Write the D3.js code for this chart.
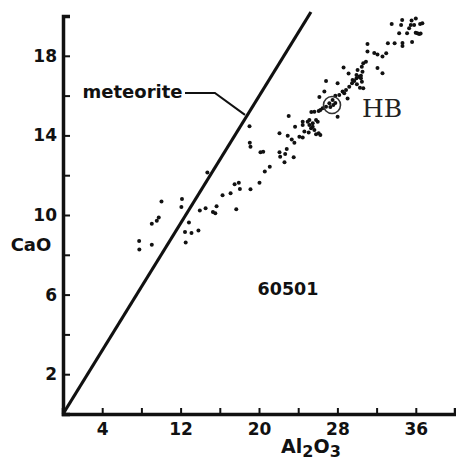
<!DOCTYPE html>
<html>
<head>
<meta charset="utf-8">
<script src="https://cdn.jsdelivr.net/npm/d3@7"></script>
<style>
  html, body { margin: 0; padding: 0; background: #fff; }
  svg { display: block; }
</style>
</head>
<body>
<div id="chart"></div>
<script>
// CaO vs Al2O3, sample 60501, with the meteorite mixing line
var alumina = [7.77, 7.79, 9.06, 9.06, 9.57, 9.77, 10.05, 12.14, 12.08, 12.85, 12.45, 13.11, 13.82, 12.52,
  13.96, 14.55, 15.30, 15.54, 15.67, 14.73, 16.28, 17.10, 17.51, 17.94, 18.05, 19.13, 17.68, 20.05, 20.59,
  21.10, 19.03, 19.06, 19.13, 20.15, 20.43, 22.09, 23.03, 23.68, 24.46, 22.93, 23.34, 23.61, 24.12, 24.46,
  22.83, 22.09, 22.16, 22.67, 23.54, 22.60, 24.97, 25.14, 25.48, 25.82, 25.99, 25.31, 25.65, 26.09, 25.82,
  26.26, 24.63, 25.07, 25.14, 24.46, 25.48, 25.65, 26.09, 26.49, 26.84, 27.18, 27.51, 27.79, 28.19, 28.53,
  28.70, 28.88, 29.21, 29.49, 29.04, 28.02, 26.16, 26.67, 26.84, 28.02, 28.63, 29.14, 29.55, 29.95, 30.40,
  30.23, 30.06, 30.56, 30.49, 30.64, 30.91, 31.07, 31.07, 31.76, 32.09, 32.60, 32.98, 32.09, 32.60, 33.15,
  33.84, 34.64, 34.64, 35.62, 33.54, 34.61, 34.50, 35.57, 36.00, 35.49, 35.83, 36.44, 36.67, 35.32, 35.11,
  34.30, 36.16, 36.34, 35.99, 36.49, 29.72, 30.50, 29.99, 30.30, 30.64, 29.95, 30.40, 25.34, 26.26, 27.28,
  27.58, 27.79];
var calcia = [8.69, 8.27, 8.51, 9.56, 9.71, 9.88, 10.68, 10.80, 10.40, 9.62, 9.15, 9.10, 9.22, 8.62,
  10.23, 10.34, 10.15, 10.09, 10.44, 12.14, 10.99, 11.09, 11.54, 11.62, 11.31, 11.29, 10.29, 11.62, 12.18,
  12.43, 14.46, 13.63, 13.43, 13.15, 13.18, 14.11, 14.97, 14.44, 14.69, 13.98, 13.80, 13.63, 13.93, 13.89,
  13.32, 13.15, 12.93, 13.07, 12.90, 12.65, 14.69, 14.52, 14.61, 14.77, 14.69, 14.36, 14.27, 14.11, 14.06,
  14.02, 14.19, 14.14, 14.77, 14.52, 14.44, 15.19, 15.23, 15.36, 15.44, 15.61, 15.78, 15.99, 16.03, 16.20,
  16.12, 16.28, 16.45, 16.62, 15.86, 14.94, 15.93, 16.20, 16.73, 16.62, 17.41, 17.11, 16.78, 16.87, 16.87,
  16.95, 17.29, 17.20, 17.45, 17.62, 17.70, 18.59, 18.21, 18.14, 18.06, 17.96, 18.13, 17.39, 17.12, 18.63,
  18.63, 18.64, 18.49, 18.69, 19.60, 19.80, 19.55, 19.77, 19.88, 19.55, 19.55, 19.60, 19.63, 19.38, 19.13,
  19.13, 19.13, 19.10, 19.16, 19.12, 16.73, 16.70, 16.57, 16.40, 16.37, 17.04, 17.00, 15.18, 15.28, 15.43,
  15.53, 15.63];

var xTicks = [4, 8, 12, 16, 20, 24, 28, 32, 36];
var xLabels = [4, 12, 20, 28, 36];
var yTicks = [2, 4, 6, 8, 10, 12, 14, 16, 18];
var yLabels = [2, 6, 10, 14, 18];

var meteoriteLine = [[0, 0], [25.3, 20.2]];
var meteoriteLeader = [[12.45, 16.13], [15.5, 16.13], [18.57, 15.03]];
var hbPoint = [27.45, 15.53];

var W = 456, H = 464;
var INK = "#111";
var FONT = "'DejaVu Sans', sans-serif";

var x = d3.scaleLinear().domain([0, 40]).range([63, 455]);
var y = d3.scaleLinear().domain([0, 20]).range([414, 16]);

var svg = d3.select("#chart").append("svg").attr("width", W).attr("height", H);

// axes: ticks point inward, labels only on every other tick
var xAxis = d3.axisBottom(x).tickValues(xTicks).tickSizeInner(-6).tickSizeOuter(-6).tickPadding(9)
  .tickFormat(function (d) { return xLabels.indexOf(d) >= 0 ? d : ""; });
var yAxis = d3.axisLeft(y).tickValues(yTicks).tickSizeInner(-7).tickSizeOuter(-7).tickPadding(6)
  .tickFormat(function (d) { return yLabels.indexOf(d) >= 0 ? d : ""; });

var gx = svg.append("g").attr("transform", "translate(0," + y(0) + ")").call(xAxis);
var gy = svg.append("g").attr("transform", "translate(" + x(0) + ",0)").call(yAxis);
[gx, gy].forEach(function (g) {
  g.select(".domain").attr("stroke", INK).attr("stroke-width", 3.5);
  g.selectAll(".tick line").attr("stroke", INK).attr("stroke-width", 2);
  g.selectAll(".tick text").attr("fill", INK).attr("font-family", FONT)
    .attr("font-weight", "bold").attr("font-size", 17);
});

// meteorite line
svg.append("path").attr("d", d3.line().x(function (d) { return x(d[0]); }).y(function (d) { return y(d[1]); })(meteoriteLine))
  .attr("fill", "none").attr("stroke", INK).attr("stroke-width", 3.2);

// leader from the label to the line
svg.append("path").attr("d", d3.line().x(function (d) { return x(d[0]); }).y(function (d) { return y(d[1]); })(meteoriteLeader))
  .attr("fill", "none").attr("stroke", INK).attr("stroke-width", 2);
svg.append("text").attr("x", x(12.2)).attr("y", y(16.13) + 5).attr("text-anchor", "end")
  .attr("font-family", FONT).attr("font-weight", "bold").attr("font-size", 18).attr("fill", INK).text("meteorite");

// samples
svg.append("g").selectAll("circle").data(alumina).join("circle")
  .attr("cx", function (d) { return x(d); })
  .attr("cy", function (d, i) { return y(calcia[i]); })
  .attr("r", 2).attr("fill", INK);

// HB marker
svg.append("circle").attr("cx", x(hbPoint[0])).attr("cy", y(hbPoint[1])).attr("r", 8.5)
  .attr("fill", "none").attr("stroke", "#333").attr("stroke-width", 1.6);
svg.append("text").attr("x", x(30.5)).attr("y", y(14.9))
  .attr("font-family", "'DejaVu Serif', serif").attr("font-size", 25).attr("fill", "#222").text("HB");

// sample number
svg.append("text").attr("x", x(22.96)).attr("y", y(5.98)).attr("text-anchor", "middle")
  .attr("font-family", FONT).attr("font-weight", "bold").attr("font-size", 17.5).attr("fill", INK).text("60501");

// axis titles
svg.append("text").attr("x", 31).attr("y", y(8.2)).attr("text-anchor", "middle")
  .attr("font-family", FONT).attr("font-weight", "bold").attr("font-size", 18).attr("fill", INK).text("CaO");
var xt = svg.append("text").attr("x", x(25.3)).attr("y", 453).attr("text-anchor", "middle")
  .attr("font-family", FONT).attr("font-weight", "bold").attr("font-size", 19).attr("fill", INK);
xt.append("tspan").text("Al");
xt.append("tspan").attr("dy", 4).attr("font-size", 16).text("2");
xt.append("tspan").attr("dy", -4).text("O");
xt.append("tspan").attr("dy", 4).attr("font-size", 16).text("3");
</script>
</body>
</html>
